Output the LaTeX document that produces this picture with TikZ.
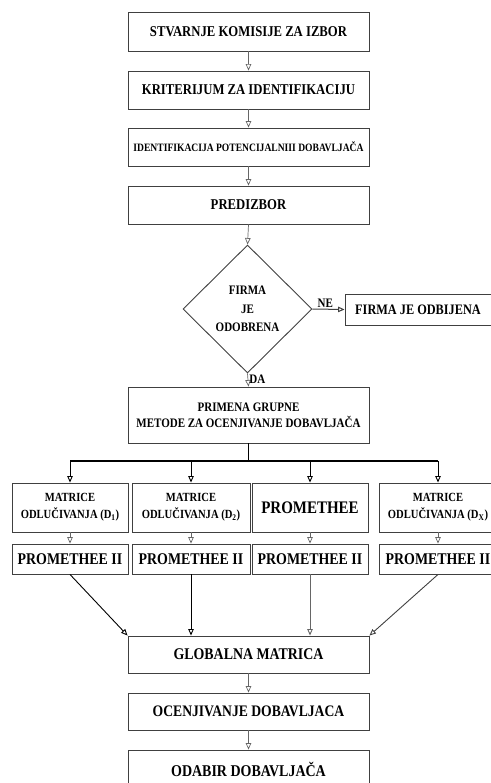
\documentclass[tikz,border=0pt]{standalone}
\usepackage{fontspec}
\setmainfont{Liberation Serif}[FakeStretch=0.85]
\usetikzlibrary{arrows.meta,shapes.geometric}
\definecolor{boxgray}{gray}{0.25}
\definecolor{arrgray}{gray}{0.4}
\newcommand{\fs}[2]{\bfseries\fontsize{#1}{#2}\selectfont}
\tikzset{
  box/.style={draw=boxgray, line width=0.9bp, minimum width=241bp, inner sep=0pt, align=center, font=\fs{15}{17}},
  colbox/.style={draw=boxgray, line width=0.9bp, inner sep=0pt, align=center},
  dec/.style={draw=boxgray, line width=0.9bp, shape=diamond, aspect=1, minimum width=129bp, minimum height=128bp, inner sep=0pt, align=center, font=\fs{13}{18.5}},
  flow/.style={draw=arrgray, line width=0.7bp, -{Triangle[open,length=6.5bp,width=5.5bp]}},
  busline/.style={draw=black, line width=1.4bp},
  lbl/.style={font=\fs{13}{15}, inner sep=1bp}
}
\begin{document}
\begin{tikzpicture}[x=1bp,y=-1bp]
\useasboundingbox (0,0) rectangle (491,783);
\node[box, minimum height=39bp] (b1) at (248.5,31.5) {STVARNJE KOMISIJE ZA IZBOR};
\node[box, minimum height=38bp] (b2) at (248.5,90) {KRITERIJUM ZA IDENTIFIKACIJU};
\node[box, minimum height=38bp, font=\fs{11.3}{13}] (b3) at (248.5,147) {IDENTIFIKACIJA POTENCIJALNIII DOBAVLJAČA};
\node[box, minimum height=38bp] (b4) at (248.5,205) {PREDIZBOR};
\node[dec] (d) at (247.5,309) {FIRMA\\JE\\ODOBRENA};
\node[box, minimum width=146bp, minimum height=31bp, font=\fs{14.5}{16}] (rej) at (418,309.5) {FIRMA JE ODBIJENA};
\node[box, minimum height=56bp, font=\fs{13}{16}] (prim) at (248.5,415) {PRIMENA GRUPNE\\METODE ZA OCENJIVANJE DOBAVLJAČA};
% columns row 1
\node[colbox, minimum width=116bp, minimum height=49bp, font=\fs{12.5}{17}] (c1) at (70,507.5) {MATRICE\\ODLUČIVANJA (D\textsubscript{1})};
\node[colbox, minimum width=118bp, minimum height=49bp, font=\fs{12.5}{17}] (c2) at (191,507.5) {MATRICE\\ODLUČIVANJA (D\textsubscript{2})};
\node[colbox, minimum width=116bp, minimum height=49bp, font=\fs{17.7}{19}] (c3) at (310,507.5) {PROMETHEE};
\node[colbox, minimum width=118bp, minimum height=49bp, font=\fs{12.5}{17}] (c4) at (438,507.5) {MATRICE\\ODLUČIVANJA (D\textsubscript{X})};
% columns row 2
\node[colbox, minimum width=116bp, minimum height=30bp, font=\fs{16.4}{18}] (e1) at (70,559) {PROMETHEE II};
\node[colbox, minimum width=118bp, minimum height=30bp, font=\fs{16.4}{18}] (e2) at (191,559) {PROMETHEE II};
\node[colbox, minimum width=116bp, minimum height=30bp, font=\fs{16.4}{18}] (e3) at (310,559) {PROMETHEE II};
\node[colbox, minimum width=118bp, minimum height=30bp, font=\fs{16.4}{18}] (e4) at (438,559) {PROMETHEE II};
% bottom
\node[box, minimum height=37bp, font=\fs{16.4}{18}] (glob) at (248.5,654.5) {GLOBALNA MATRICA};
\node[box, minimum height=37bp, font=\fs{16.1}{18}] (ocen) at (248.5,711.5) {OCENJIVANJE DOBAVLJACA};
\node[box, minimum height=38bp, font=\fs{16.5}{18}] (odab) at (248.5,769) {ODABIR DOBAVLJAČA};
% connectors top
\draw[flow] (b1.south) -- (b2.north);
\draw[flow] (b2.south) -- (b3.north);
\draw[flow] (b3.south) -- (b4.north);
\draw[flow] (b4.south) -- (d.north);
\draw[flow, draw=boxgray, line width=1bp] (d.east) -- node[lbl, above, pos=0.4] {NE} (rej.west);
\draw[flow] (d.south) -- node[lbl, right, pos=0.45] {DA} (prim.north);
% bus
\coordinate (bt) at (248.5,461);
\coordinate (k1) at (c1.north |- bt);
\coordinate (k2) at (c2.north |- bt);
\coordinate (k3) at (c3.north |- bt);
\coordinate (k4) at (c4.north |- bt);
\draw[busline] (prim.south) -- (bt);
\draw[busline] (k1) -- (k4);
\foreach \i in {1,2,3,4} {
  \draw[flow, draw=black, line width=0.9bp] (k\i) -- (c\i.north);
  \draw[flow] (c\i.south) -- (e\i.north);
}
% to global
\draw[flow, draw=black, line width=0.9bp] (e1.south) -- (glob.north west);
\draw[flow, draw=black, line width=0.9bp] (e2.south) -- (e2.south |- glob.north);
\draw[flow, draw=arrgray, line width=0.9bp] (e3.south) -- (e3.south |- glob.north);
\draw[flow, draw=boxgray, line width=0.9bp] (e4.south) -- (glob.north east);
\draw[flow] (glob.south) -- (ocen.north);
\draw[flow] (ocen.south) -- (odab.north);
\end{tikzpicture}
\end{document}
